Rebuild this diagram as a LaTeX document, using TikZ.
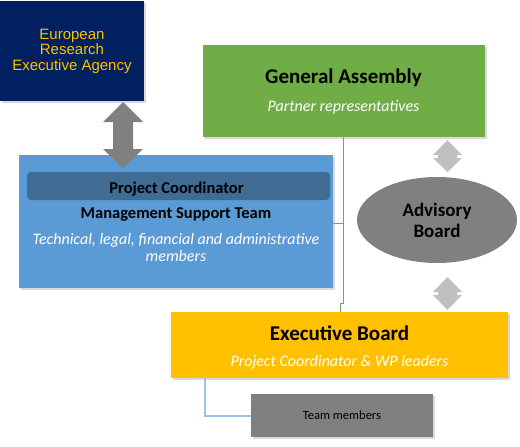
\documentclass[tikz,border=0pt]{standalone}
\usepackage{fontspec}
\setmainfont{Carlito}
\newfontfamily\arialfont{Liberation Sans}
\usetikzlibrary{shapes.geometric, shadows}
\definecolor{eranavy}{RGB}{0,32,96}
\definecolor{eragold}{RGB}{255,192,0}
\definecolor{gagreen}{RGB}{112,173,71}
\definecolor{pcblue}{RGB}{91,155,213}
\definecolor{pcbar}{RGB}{64,108,148}
\definecolor{ebyellow}{RGB}{255,192,0}
\definecolor{boardgray}{RGB}{128,128,128}
\definecolor{arrowgray}{RGB}{192,192,192}
\definecolor{linkblue}{RGB}{157,195,230}
\tikzset{
  box/.style={draw=none, inner sep=0pt, drop shadow={opacity=0.3, shadow xshift=2pt, shadow yshift=-2pt}},
  title/.style={font=\bfseries\fontsize{21}{23}\selectfont},
  subtitle/.style={text=white, font=\itshape\fontsize{16}{17}\selectfont, align=center}
}

\begin{document}
\begin{tikzpicture}[x=1pt, y=-1pt]
\useasboundingbox (0,0) rectangle (520,447);
% boxes
\node [box, fill=eranavy, minimum width=144pt, minimum height=100pt, text=eragold, align=center,
  font=\arialfont\fontsize{15}{15.5}\selectfont] (era) at (72,51) {European\\Research\\Executive Agency};
\node [box, fill=gagreen, minimum width=282pt, minimum height=92pt] (ga) at (344,91) {};
\node [box, fill=pcblue, minimum width=314pt, minimum height=133pt] (pc) at (176,221.5) {};
\node [draw=none, fill=pcbar, rounded corners=4pt, minimum width=303pt, minimum height=28pt] (pcbar) at (178.5,186) {};
\node [box, fill=ebyellow, minimum width=337pt, minimum height=66pt] (eb) at (339.5,345) {};
\node [box, fill=boardgray, minimum width=182pt, minimum height=43pt,
  font=\fontsize{12.5}{14}\selectfont] (tm) at (342,415.5) {Team members};
\node [ellipse, fill=boardgray, inner sep=0pt, minimum width=160pt, minimum height=86pt, align=center,
  font=\bfseries\fontsize{19}{21}\selectfont] (ab) at (437,220) {Advisory\\Board};
% texts
\node [title] (gatitle) at (343.5,78) {General Assembly};
\node [subtitle] (gasub) at (343.5,107) {Partner representatives};
\node [font=\bfseries\fontsize{16.5}{17}\selectfont] (pctitle) at (176.5,189) {Project Coordinator};
\node [font=\bfseries\fontsize{16.5}{17}\selectfont] (mstitle) at (176,214) {Management Support Team};
\node [subtitle] (mssub) at (176,247.5) {Technical, legal, financial and administrative\\members};
\node [title] (ebtitle) at (339.5,333) {Executive Board};
\node [subtitle] (ebsub) at (339.5,362) {Project Coordinator \& WP leaders};
% links
\coordinate (gaknee) at (343,223);
\coordinate (gajog) at (340,303);
\draw [gagreen, line width=1pt] (ga.south -| gaknee) -- (gaknee) -- (pc.east |- gaknee);
\draw [gagreen, line width=1pt] (gaknee) -- (gaknee |- gajog) -- (gajog) -- (eb.north -| gajog);
\coordinate (ebknee) at (205,416);
\draw [linkblue, line width=1.5pt] (eb.south -| ebknee) -- (ebknee) -- (tm.west |- ebknee);
% double arrows
\fill [boardgray] (123,102) -- (143,122) -- (133,122) -- (133,149) -- (143,149) -- (123,168)
  -- (103,149) -- (113,149) -- (113,122) -- (103,122) -- cycle;
\fill [arrowgray] (447.5,140) -- (462,155) -- (457,155) -- (457,158) -- (462,158) -- (447.5,172)
  -- (433,158) -- (438,158) -- (438,155) -- (433,155) -- cycle;
\fill [arrowgray] (447.5,277) -- (462,292) -- (457,292) -- (457,295) -- (462,295) -- (447.5,310)
  -- (433,295) -- (438,295) -- (438,292) -- (433,292) -- cycle;
\end{tikzpicture}
\end{document}
